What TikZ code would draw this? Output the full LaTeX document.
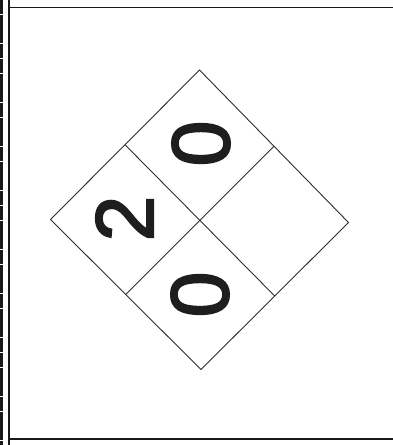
\documentclass[tikz,border=0pt]{standalone}
\usepackage{fontspec}
\setmainfont{Liberation Sans}
\newcommand{\heavydigit}[1]{\special{pdf:literal 2 Tr 2 w}#1\special{pdf:literal 0 Tr}}
\begin{document}
\begin{tikzpicture}[x=1pt, y=-1pt]

\definecolor{framecolor}{RGB}{25, 25, 25}
\definecolor{gridcolor}{RGB}{45, 45, 45}
\definecolor{digitcolor}{RGB}{30, 30, 30}

\tikzset{
  rating/.style={font=\fontsize{82}{82}\selectfont, rotate=90, inner sep=0pt, text=digitcolor},
  gridline/.style={gridcolor, line width=0.9pt, line join=miter},
  frameline/.style={framecolor, line width=1.4pt}
}

\useasboundingbox (0,0) rectangle (393,445);

% frame
\draw[framecolor, line width=3pt, dash pattern=on 14pt off 0.7pt] (1.5,0) -- (1.5,445);
\draw[frameline] (9,0) -- (9,445);
\draw[frameline] (9,7.5) -- (393,7.5);
\draw[frameline] (9,439) -- (393,439);

% diamond corners and side midpoints
\coordinate (top) at (199.5, 70);
\coordinate (left) at (50.5, 219.5);
\coordinate (right) at (348.5, 222.5);
\coordinate (bottom) at (201, 369.5);
\coordinate (topleft) at (125, 144.75);
\coordinate (topright) at (274, 146.25);
\coordinate (bottomleft) at (125.75, 294.5);
\coordinate (bottomright) at (274.75, 296);

\draw[gridline] (top) -- (right) -- (bottom) -- (left) -- cycle;
\draw[gridline] (topleft) -- (bottomright);
\draw[gridline] (topright) -- (bottomleft);

% ratings
\node[rating] (flammability) at (201, 143.5) {\heavydigit{0}};
\node[rating] (health) at (124.5, 218.5) {\heavydigit{2}};
\node[rating] (reactivity) at (200, 294.5) {\heavydigit{0}};

\end{tikzpicture}
\end{document}
